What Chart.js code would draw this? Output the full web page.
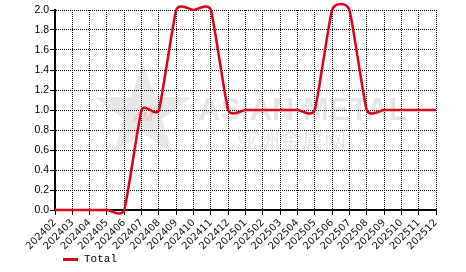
<!DOCTYPE html>
<html>
<head>
<meta charset="utf-8">
<script src="https://cdn.jsdelivr.net/npm/chart.js@4/dist/chart.umd.min.js"></script>
<style>
  html, body { margin:0; padding:0; background:#fff; }
  #wrap { position:relative; width:466px; height:272px; }
  #legend { position:absolute; left:63px; top:253px; font:11px "Liberation Mono", "DejaVu Sans Mono", monospace; color:#000; display:flex; align-items:center; }
  #legend .sw { width:15px; height:3px; background:#e10019; margin-right:6px; }
</style>
</head>
<body>
<div id="wrap">
  <canvas id="c" width="466" height="272"></canvas>
  <div id="legend"><span class="sw"></span><span>Total</span></div>
</div>
<script>
'use strict';

/* ── DATA ──────────────────────────────────── */
const months = ['202402','202403','202404','202405','202406','202407','202408','202409',
  '202410','202411','202412','202501','202502','202503','202504','202505','202506',
  '202507','202508','202509','202510','202511','202512'];
const totalValues = [0,0,0,0,0,1,1,2,2,2,1,1,1,1,1,1,2,2,1,1,1,1,1];
const yTicks = [0,0.2,0.4,0.6,0.8,1.0,1.2,1.4,1.6,1.8,2.0];

/* ── UNIFORM SPLINE (tight corners, small overshoot) ── */
const SPLINE_K = 0.08;
const uniformSpline = {
  id:'uniformSpline',
  beforeDatasetDraw(chart, args) {
    const meta = args.meta, pts = meta.data;
    for (let i=0;i<pts.length;i++) {
      const p = pts[i], a = pts[i-1] || p, b = pts[i+1] || p;
      const dx = (b.x - a.x)*SPLINE_K, dy = (b.y - a.y)*SPLINE_K;
      p.cp1x = p.x - dx; p.cp1y = p.y - dy;
      p.cp2x = p.x + dx; p.cp2y = p.y + dy;
    }
    meta.dataset._pointsUpdated = true;
  }
};

/* ── WATERMARK ─────────────────────────────── */
const watermark = {
  id:'watermark',
  beforeDatasetsDraw(chart) {
    const ctx = chart.ctx;
    ctx.save();
    const cx=143, cy=113, R=50, r=20;
    ctx.beginPath();
    for (let i=0;i<10;i++) {
      const a = -Math.PI/2 + i*Math.PI/5;
      const rr = i%2 ? r : R;
      const px = cx + rr*Math.cos(a), py = cy + rr*Math.sin(a);
      i ? ctx.lineTo(px,py) : ctx.moveTo(px,py);
    }
    ctx.closePath();
    ctx.fillStyle='rgba(0,0,0,0.09)';
    ctx.fill();
    ctx.fillStyle='rgba(230,0,20,0.18)';
    ctx.font='italic bold 13px "Liberation Sans", Arial, sans-serif';
    ctx.textAlign='center'; ctx.textBaseline='middle';
    ctx.fillText('AM', cx, cy+4);
    ctx.fillStyle='rgba(0,0,0,0.10)';
    ctx.textAlign='left'; ctx.textBaseline='alphabetic';
    ctx.font='bold 31px "Liberation Sans", Arial, sans-serif';
    ctx.fillText('ASIAN METAL', 198, 120);
    ctx.font='22px "Noto Sans CJK SC", sans-serif';
    ctx.fillText('亚洲金属网', 236, 148);
    ctx.restore();
  }
};

/* ── CHART ─────────────────────────────────── */
new Chart(document.getElementById('c'), {
  type:'line',
  data:{ labels:months, datasets:[{
    label:'Total', data:totalValues,
    borderColor:'#e10019', borderWidth:2.5, tension:0.4,
    pointRadius:0, fill:false, clip:false
  }]},
  options:{
    responsive:false, animation:false,
    layout:{ padding:{ left:0, right:30, top:10, bottom:0 } },
    elements:{ line:{ capBezierPoints:false } },
    plugins:{ legend:{ display:false }, tooltip:{ enabled:false } },
    scales:{
      x:{
        afterFit:s=>{ s.height = 62; },
        grid:{ color:'#000', lineWidth:1, tickLength:5, tickColor:'#000', tickBorderDash:[] },
        border:{ display:true, color:'#000', width:2, dash:[1,1] },
        ticks:{ autoSkip:false, maxRotation:45, minRotation:45, padding:2, color:'#111',
          font:{ family:'"DejaVu Sans", Verdana, sans-serif', size:10 } }
      },
      y:{
        min:0, max:2,
        afterFit:s=>{ s.width = 55; },
        afterBuildTicks:s=>{ s.ticks = yTicks.map(v=>({ value:v })); },
        grid:{ color:'#000', lineWidth:1, tickLength:5, tickColor:'#000', tickBorderDash:[] },
        border:{ display:true, color:'#000', width:2, dash:[1,1] },
        ticks:{ padding:1, color:'#000', callback:v=>v.toFixed(1),
          font:{ family:'"Liberation Sans", Arial, sans-serif', size:10.5 } }
      }
    }
  },
  plugins:[uniformSpline, watermark]
});
</script>
</body>
</html>
